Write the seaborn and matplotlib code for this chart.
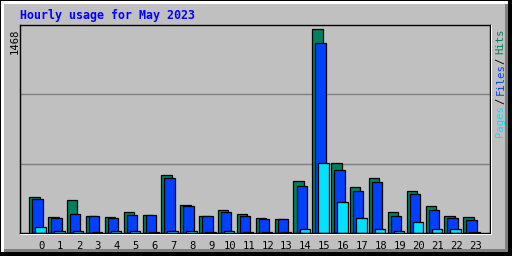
import matplotlib
matplotlib.use("Agg")
import matplotlib.pyplot as plt
from matplotlib.patches import Rectangle
import seaborn as sns
import pandas as pd
import numpy as np

hours = list(range(24))
hits = [257, 115, 231, 122, 115, 151, 130, 412, 200, 122, 165, 137,
        108, 101, 370, 1440, 492, 327, 391, 151, 299, 193, 122, 115]
files = [243, 104, 137, 122, 108, 130, 130, 391, 193, 122, 151, 122,
         101, 101, 335, 1339, 448, 299, 363, 122, 278, 165, 108, 94]
pages = [45, 16, 16, 5, 16, 16, 5, 16, 16, 5, 16, 5,
         5, 5, 31, 492, 217, 108, 31, 16, 80, 31, 31, 5]
y_max = 1468
title = "Hourly usage for May 2023"

HIT_C = "#00805C"
FILE_C = "#0040FF"
PAGE_C = "#00E0FF"
BG = "#C0C0C0"

df = pd.DataFrame({"hour": hours, "hits": hits, "files": files, "pages": pages})

fig = plt.figure(figsize=(5.12, 2.56), dpi=100)
fig.patch.set_facecolor(BG)

W, H = 512, 256
ax = fig.add_axes([20 / W, (H - 233) / H, (490 - 20) / W, (233 - 25) / H])
ax.set_facecolor(BG)

bw = 0.55
for col, color, off in [("hits", HIT_C, -0.36), ("files", FILE_C, -0.20), ("pages", PAGE_C, -0.04)]:
    d = pd.DataFrame({"x": df["hour"] + off, "v": df[col]})
    sns.barplot(data=d, x="x", y="v", native_scale=True, width=bw, color=color,
                saturation=1, edgecolor="black", linewidth=0.9, errorbar=None, ax=ax, zorder=3)

ax.set_xlim(-1.13, 23.78)
ax.set_ylim(0, y_max)
ax.set_xticks(hours)
ax.set_xticklabels([str(h) for h in hours], family="DejaVu Sans Mono", fontsize=7.6, color="black")
ax.tick_params(axis="x", length=0, pad=6)
ax.set_yticks([])
ax.set_xlabel("")
ax.set_ylabel("")
for yv in [y_max / 3, 2 * y_max / 3]:
    ax.axhline(yv, color="#808080", linewidth=1.0, zorder=1)
for s in ax.spines.values():
    s.set_color("black")
    s.set_linewidth(1.0)
    s.set_zorder(4)

ov2 = fig.add_axes([0, 0, 1, 1], zorder=5)
ov2.set_xlim(0, W)
ov2.set_ylim(H, 0)
ov2.axis("off")
ov2.patch.set_alpha(0)

# outer frame
ov2.add_patch(Rectangle((0, 0), 1, H, color="black", lw=0))
ov2.add_patch(Rectangle((0, 0), W, 1, color="black", lw=0))
ov2.add_patch(Rectangle((1, 1), 3, H - 5, color="white", lw=0))
ov2.add_patch(Rectangle((1, 1), W - 5, 3, color="white", lw=0))
ov2.add_patch(Rectangle((505, 4), 3, 248, color="#808080", lw=0))
ov2.add_patch(Rectangle((4, 249), 504, 3, color="#808080", lw=0))
ov2.add_patch(Rectangle((508, 0), 4, H, color="black", lw=0))
ov2.add_patch(Rectangle((0, 252), W, 4, color="black", lw=0))
# inner plot white edges
ov2.add_patch(Rectangle((490.5, 25), 1.2, 210, color="white", lw=0))
ov2.add_patch(Rectangle((20, 233.5), 471.7, 1.2, color="white", lw=0))

ov2.text(20, 15.5, title, family="DejaVu Sans Mono", fontweight="bold", fontsize=8.4,
         color="#0000FF", ha="left", va="center")
ov2.text(15, 28, str(y_max), family="DejaVu Sans Mono", fontsize=7.6, color="black",
         rotation=90, rotation_mode="anchor", ha="right", va="center")

pieces = [("Pages", PAGE_C, 137), ("/", "black", 104), ("Files", FILE_C, 95),
          ("/", "black", 64), ("Hits", HIT_C, 54)]
for txt, c, y0 in pieces:
    ov2.text(500.5, y0, txt, family="DejaVu Sans Mono", fontsize=7.6, color=c,
             rotation=90, rotation_mode="anchor", ha="left", va="center")

fig.savefig("out.png", dpi=100, facecolor=BG)
